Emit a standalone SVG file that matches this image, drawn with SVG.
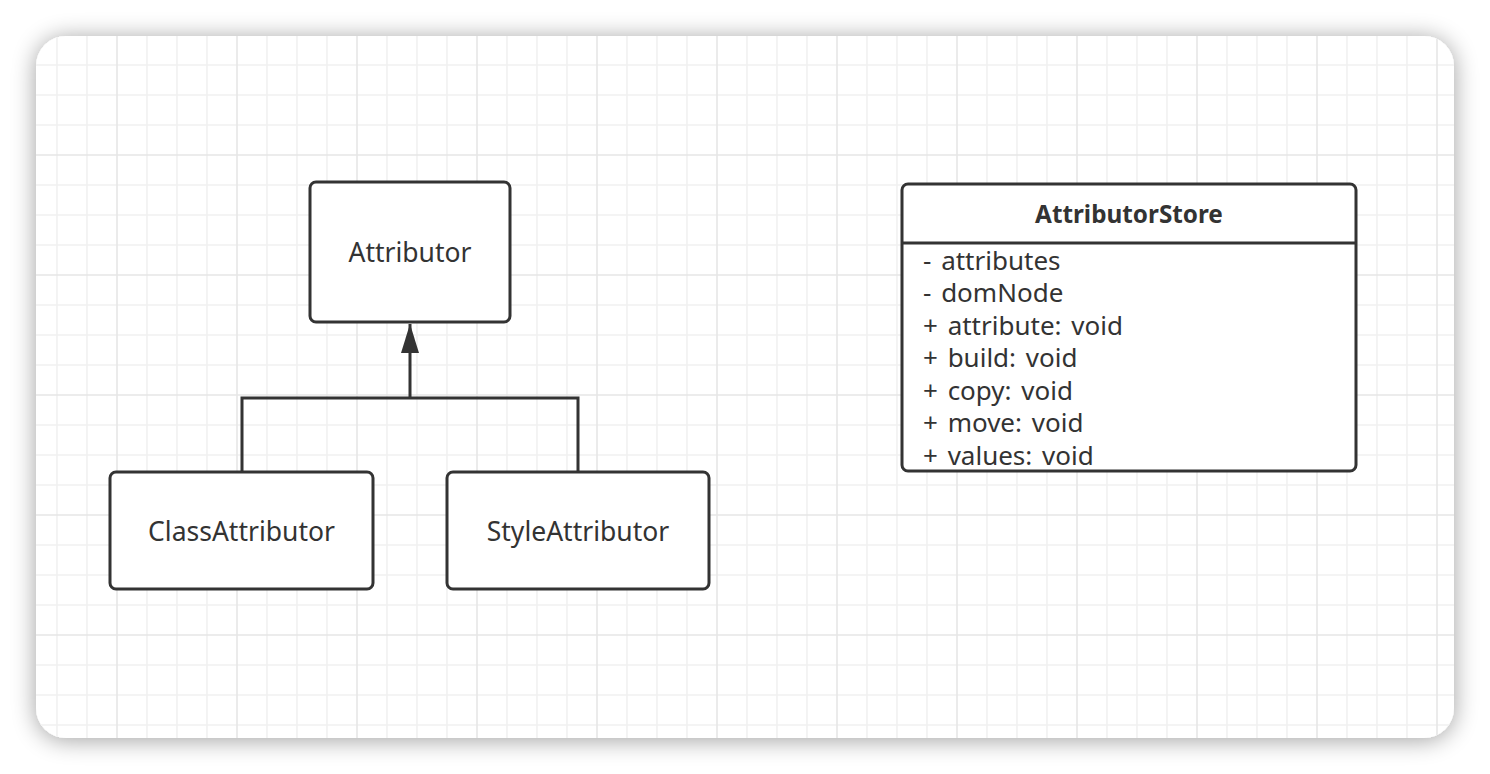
<svg xmlns="http://www.w3.org/2000/svg" width="1490" height="774" viewBox="0 0 1490 774">
  <defs>
    <filter id="shadow" x="-10%" y="-10%" width="120%" height="130%">
      <feGaussianBlur in="SourceAlpha" stdDeviation="12"/>
      <feOffset dx="0" dy="2" result="b"/>
      <feComponentTransfer><feFuncA type="linear" slope="0.38"/></feComponentTransfer>
      <feMerge><feMergeNode/><feMergeNode in="SourceGraphic"/></feMerge>
    </filter>
    <pattern id="grid" patternUnits="userSpaceOnUse" x="102" y="20" width="120" height="120">
      <path d="M45 0V120M75 0V120M105 0V120M0 45H120M0 75H120M0 105H120" stroke="#f1f1f1" stroke-width="1.6" fill="none"/>
      <path d="M15 0V120M0 15H120" stroke="#e6e6e6" stroke-width="1.6" fill="none"/>
    </pattern>
    <marker id="tri" viewBox="0 0 29 18" refX="29" refY="9" markerWidth="29" markerHeight="18" markerUnits="userSpaceOnUse" orient="auto">
      <path d="M0 0L29 9L0 18Z" fill="#333"/>
    </marker>
  </defs>
  <style>
    .box{fill:#fff;stroke:#333;stroke-width:3}
    .lbl{font-family:"Noto Sans","Open Sans","DejaVu Sans",sans-serif;font-size:26.5px;fill:#333}
    .title{font-family:"Noto Sans","Open Sans","DejaVu Sans",sans-serif;font-size:24.3px;font-weight:bold;fill:#333}
    .mem{font-family:"Noto Sans","Open Sans","DejaVu Sans",sans-serif;font-size:26px;fill:#333;word-spacing:3px}
    .edge{fill:none;stroke:#333;stroke-width:3}
  </style>
  <rect width="1490" height="774" fill="#fff"/>
  <g id="canvas">
    <rect x="36" y="36" width="1418" height="702" rx="30" fill="#fff" filter="url(#shadow)"/>
    <rect x="36" y="36" width="1418" height="702" rx="30" fill="url(#grid)"/>
  </g>
  <g id="connectors">
    <path class="edge" d="M242 472V398H578V472"/>
    <path class="edge" d="M410 398V324" marker-end="url(#tri)"/>
  </g>
  <g id="attributor">
    <rect class="box" x="310" y="182" width="200" height="140" rx="6"/>
    <text class="lbl" x="410" y="262" text-anchor="middle">Attributor</text>
  </g>
  <g id="classAttributor">
    <rect class="box" x="110" y="472" width="263" height="117" rx="6"/>
    <text class="lbl" x="241.5" y="541" text-anchor="middle">ClassAttributor</text>
  </g>
  <g id="styleAttributor">
    <rect class="box" x="447" y="472" width="262" height="117" rx="6"/>
    <text class="lbl" x="578" y="541" text-anchor="middle">StyleAttributor</text>
  </g>
  <g id="attributorStore">
    <rect class="box" x="902" y="184" width="454" height="287" rx="6"/>
    <line class="edge" x1="902" y1="243" x2="1356" y2="243"/>
    <text class="title" x="1129" y="223" text-anchor="middle">AttributorStore</text>
    <text class="mem" x="923" y="269.5">- attributes</text>
    <text class="mem" x="923" y="302">- domNode</text>
    <text class="mem" x="923" y="334.5">+ attribute: void</text>
    <text class="mem" x="923" y="367">+ build: void</text>
    <text class="mem" x="923" y="399.5">+ copy: void</text>
    <text class="mem" x="923" y="432">+ move: void</text>
    <text class="mem" x="923" y="464.5">+ values: void</text>
  </g>
</svg>
